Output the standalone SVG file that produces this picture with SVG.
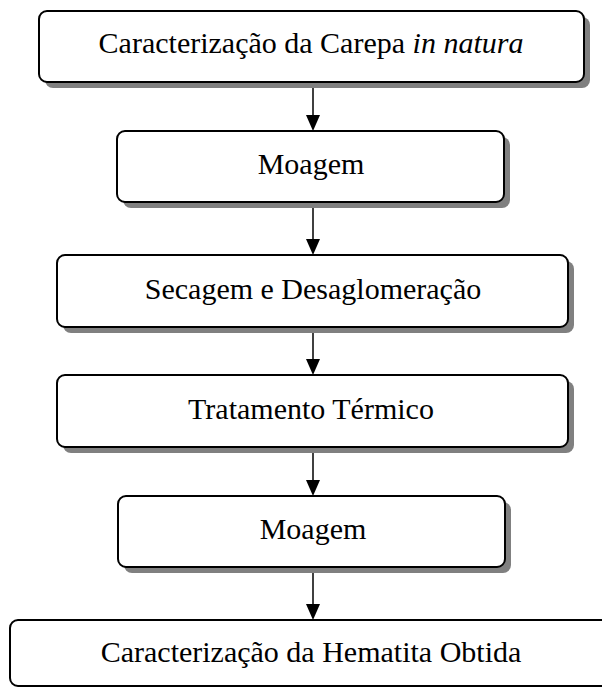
<svg xmlns="http://www.w3.org/2000/svg" width="602" height="690" viewBox="0 0 602 690">
<defs>
<style>
.sh{fill:#808080;}
.bx{fill:#fff;stroke:#000;stroke-width:2;}
.t{font-family:"Liberation Serif","Times New Roman",serif;font-size:30px;fill:#000;text-anchor:middle;dominant-baseline:central;}
.ln{stroke:#000;stroke-width:1.5;fill:none;}
</style>
</defs>
<rect width="602" height="690" fill="#fff"/>
<g id="connectors">
<line class="ln" x1="313" y1="82" x2="313" y2="116"/><path d="M306,115 L320,115 L313,131 Z"/>
<line class="ln" x1="313" y1="202" x2="313" y2="240"/><path d="M306,239 L320,239 L313,255 Z"/>
<line class="ln" x1="313" y1="327" x2="313" y2="360"/><path d="M306,359 L320,359 L313,375 Z"/>
<line class="ln" x1="313" y1="447" x2="313" y2="481"/><path d="M306,480 L320,480 L313,496 Z"/>
<line class="ln" x1="313" y1="567" x2="313" y2="605"/><path d="M306,604 L320,604 L313,620 Z"/>
</g>
<g id="n1">
<rect class="sh" x="45" y="17" width="545" height="71" rx="8"/>
<rect class="bx" x="39" y="11" width="545" height="71" rx="8"/>
<text class="t" x="311" y="42">Caracterização da Carepa <tspan font-style="italic">in natura</tspan></text>
</g>
<g id="n2">
<rect class="sh" x="123" y="137" width="387" height="71" rx="8"/>
<rect class="bx" x="117" y="131" width="387" height="71" rx="8"/>
<text class="t" x="311" y="163">Moagem</text>
</g>
<g id="n3">
<rect class="sh" x="63" y="261" width="511" height="72" rx="8"/>
<rect class="bx" x="57" y="255" width="511" height="72" rx="8"/>
<text class="t" x="313" y="288">Secagem e Desaglomeração</text>
</g>
<g id="n4">
<rect class="sh" x="63" y="381" width="511" height="72" rx="8"/>
<rect class="bx" x="57" y="375" width="511" height="72" rx="8"/>
<text class="t" x="311" y="408">Tratamento Térmico</text>
</g>
<g id="n5">
<rect class="sh" x="124" y="502" width="387" height="71" rx="8"/>
<rect class="bx" x="118" y="496" width="387" height="71" rx="8"/>
<text class="t" x="313" y="528">Moagem</text>
</g>
<g id="n6">
<rect class="bx" x="10" y="620" width="610" height="66" rx="8"/>
<text class="t" x="311" y="651">Caracterização da Hematita Obtida</text>
</g>
</svg>
